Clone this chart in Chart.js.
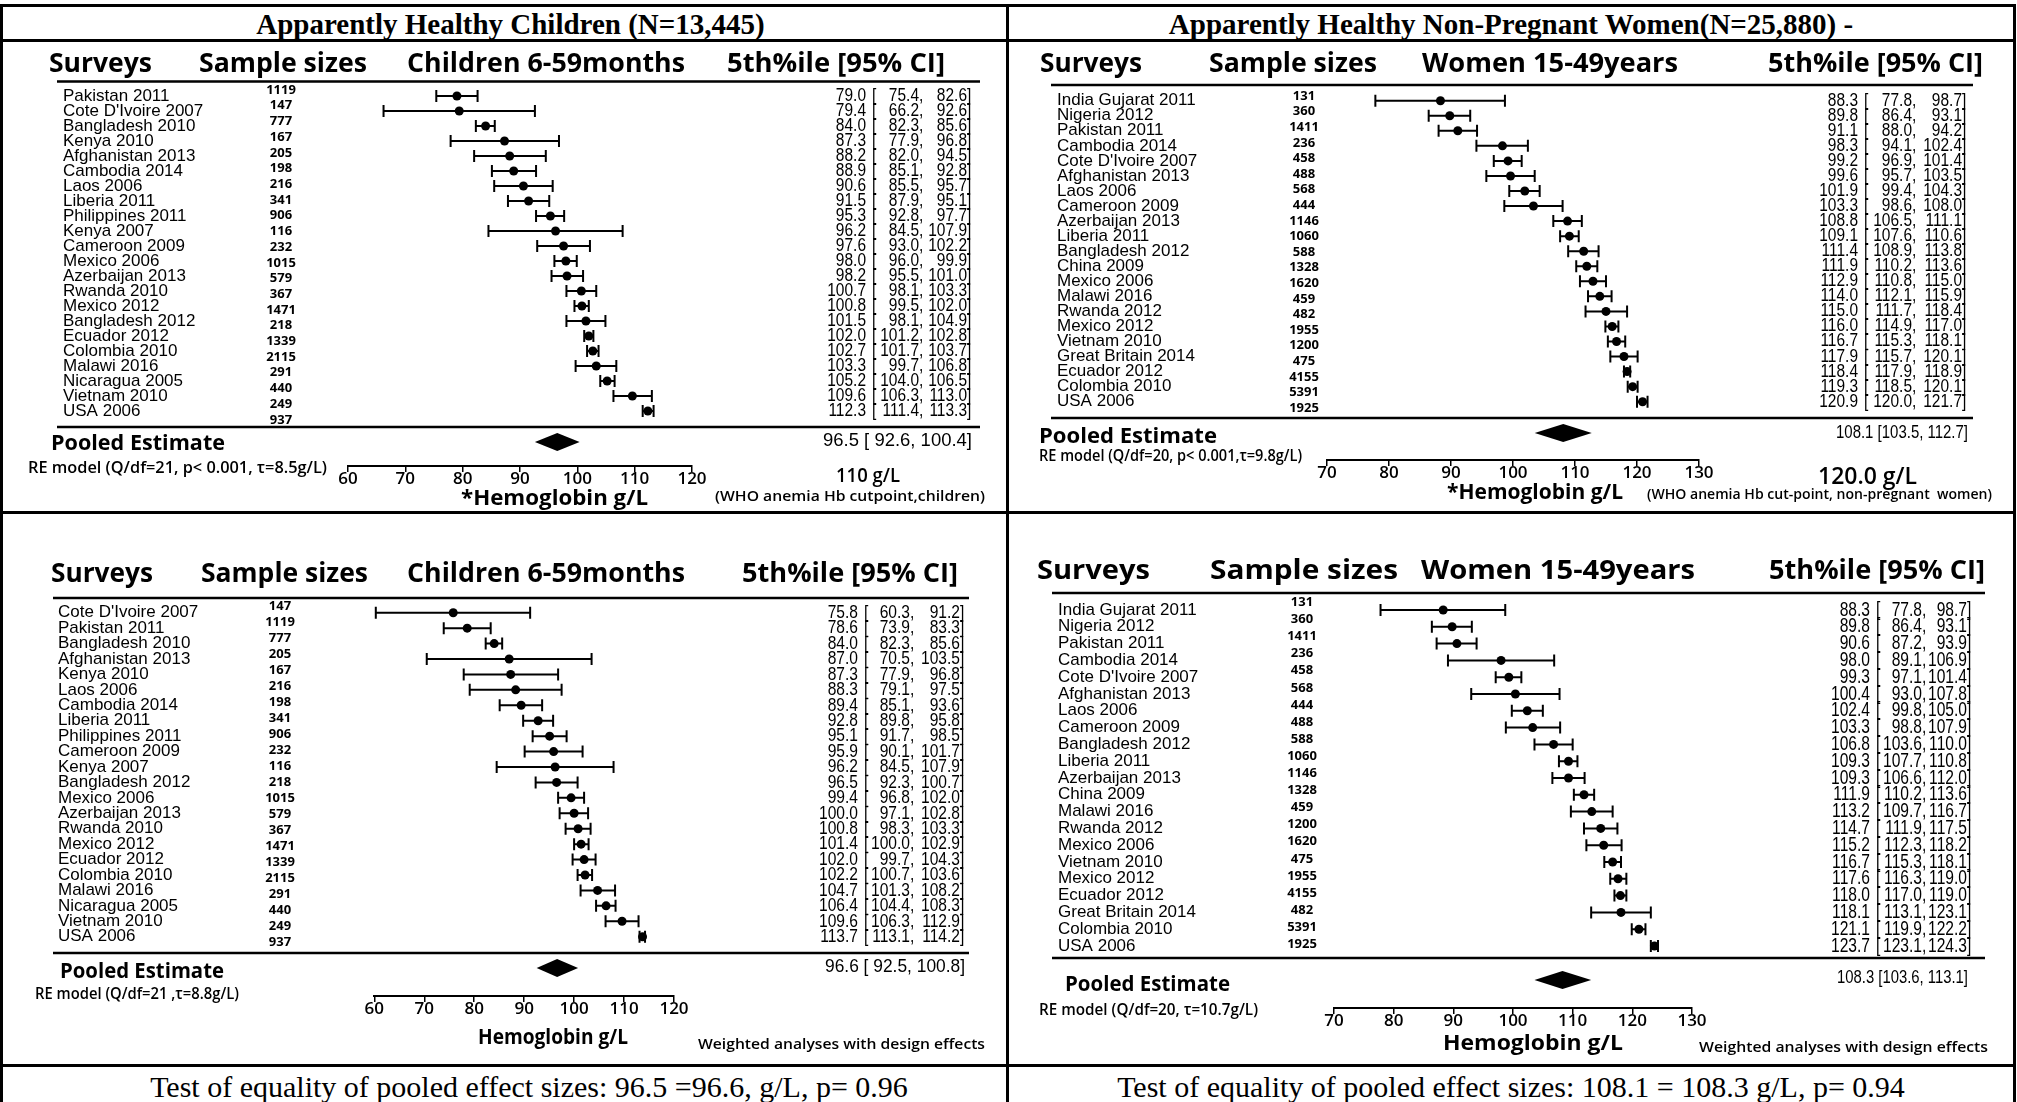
<!DOCTYPE html>
<html>
<head>
<meta charset="utf-8">
<script src="https://cdn.jsdelivr.net/npm/chart.js@4.4.1/dist/chart.umd.min.js"></script>
<style>
body { margin: 0; background: #fff; width: 2017px; height: 1102px; overflow: hidden; position: relative; }
.ln { position: absolute; background: #000; }
.cap { position: absolute; text-align: center; color: #000; white-space: nowrap; font-family: "Liberation Serif", serif; }
canvas { position: absolute; }
</style>
</head>
<body>
<!-- table frame -->
<div class="ln" style="left:0;top:4px;width:2016px;height:3px"></div>
<div class="ln" style="left:0;top:39px;width:2016px;height:3px"></div>
<div class="ln" style="left:0;top:511px;width:2016px;height:3px"></div>
<div class="ln" style="left:0;top:1064px;width:2016px;height:3px"></div>
<div class="ln" style="left:0;top:4px;width:3px;height:1098px"></div>
<div class="ln" style="left:2013px;top:4px;width:3px;height:1098px"></div>
<div class="ln" style="left:1006px;top:4px;width:3px;height:1098px"></div>

<div class="cap" style="left:3px;width:1015px;top:6px;line-height:36px;font-weight:bold;font-size:29px">Apparently Healthy Children (N=13,445)</div>
<div class="cap" style="left:1009px;width:1004px;top:6px;line-height:36px;font-weight:bold;font-size:29px">Apparently Healthy Non-Pregnant Women(N=25,880) -</div>
<div class="cap" style="left:3px;width:1052px;top:1069px;line-height:36px;font-size:30px">Test of equality of pooled effect sizes: 96.5 =96.6, g/L, p= 0.96</div>
<div class="cap" style="left:1009px;width:1004px;top:1069px;line-height:36px;font-size:30px">Test of equality of pooled effect sizes: 108.1 = 108.3 g/L, p= 0.94</div>

<canvas id="tl" width="1006" height="470" style="left:0;top:41px"></canvas>
<canvas id="tr" width="1006" height="470" style="left:1008px;top:41px"></canvas>
<canvas id="bl" width="1006" height="551" style="left:0;top:513px"></canvas>
<canvas id="br" width="1006" height="551" style="left:1008px;top:513px"></canvas>

<script>
// ---- Children, unweighted (top left)
const tlSurveys = ["Pakistan 2011", "Cote D'Ivoire 2007", "Bangladesh 2010", "Kenya 2010", "Afghanistan 2013", "Cambodia 2014", "Laos 2006", "Liberia 2011", "Philippines 2011", "Kenya 2007", "Cameroon 2009", "Mexico 2006", "Azerbaijan 2013", "Rwanda 2010", "Mexico 2012", "Bangladesh 2012", "Ecuador 2012", "Colombia 2010", "Malawi 2016", "Nicaragua 2005", "Vietnam 2010", "USA 2006"];
const tlN = [1119, 147, 777, 167, 205, 198, 216, 341, 906, 116, 232, 1015, 579, 367, 1471, 218, 1339, 2115, 291, 440, 249, 937];
const tlEst = [79.0, 79.4, 84.0, 87.3, 88.2, 88.9, 90.6, 91.5, 95.3, 96.2, 97.6, 98.0, 98.2, 100.7, 100.8, 101.5, 102.0, 102.7, 103.3, 105.2, 109.6, 112.3];
const tlLo = [75.4, 66.2, 82.3, 77.9, 82.0, 85.1, 85.5, 87.9, 92.8, 84.5, 93.0, 96.0, 95.5, 98.1, 99.5, 98.1, 101.2, 101.7, 99.7, 104.0, 106.3, 111.4];
const tlHi = [82.6, 92.6, 85.6, 96.8, 94.5, 92.8, 95.7, 95.1, 97.7, 107.9, 102.2, 99.9, 101.0, 103.3, 102.0, 104.9, 102.8, 103.7, 106.8, 106.5, 113.0, 113.3];
const tlPooled = [96.5, 92.6, 100.4];
const tlTicks = [60, 70, 80, 90, 100, 110, 120];

// ---- Women, unweighted (top right)
const trSurveys = ["India Gujarat 2011", "Nigeria 2012", "Pakistan 2011", "Cambodia 2014", "Cote D'Ivoire 2007", "Afghanistan 2013", "Laos 2006", "Cameroon 2009", "Azerbaijan 2013", "Liberia 2011", "Bangladesh 2012", "China 2009", "Mexico 2006", "Malawi 2016", "Rwanda 2012", "Mexico 2012", "Vietnam 2010", "Great Britain 2014", "Ecuador 2012", "Colombia 2010", "USA 2006"];
const trN = [131, 360, 1411, 236, 458, 488, 568, 444, 1146, 1060, 588, 1328, 1620, 459, 482, 1955, 1200, 475, 4155, 5391, 1925];
const trEst = [88.3, 89.8, 91.1, 98.3, 99.2, 99.6, 101.9, 103.3, 108.8, 109.1, 111.4, 111.9, 112.9, 114.0, 115.0, 116.0, 116.7, 117.9, 118.4, 119.3, 120.9];
const trLo = [77.8, 86.4, 88.0, 94.1, 96.9, 95.7, 99.4, 98.6, 106.5, 107.6, 108.9, 110.2, 110.8, 112.1, 111.7, 114.9, 115.3, 115.7, 117.9, 118.5, 120.0];
const trHi = [98.7, 93.1, 94.2, 102.4, 101.4, 103.5, 104.3, 108.0, 111.1, 110.6, 113.8, 113.6, 115.0, 115.9, 118.4, 117.0, 118.1, 120.1, 118.9, 120.1, 121.7];
const trPooled = [108.1, 103.5, 112.7];
const trTicks = [70, 80, 90, 100, 110, 120, 130];

// ---- Children, weighted (bottom left)
const blSurveys = ["Cote D'Ivoire 2007", "Pakistan 2011", "Bangladesh 2010", "Afghanistan 2013", "Kenya 2010", "Laos 2006", "Cambodia 2014", "Liberia 2011", "Philippines 2011", "Cameroon 2009", "Kenya 2007", "Bangladesh 2012", "Mexico 2006", "Azerbaijan 2013", "Rwanda 2010", "Mexico 2012", "Ecuador 2012", "Colombia 2010", "Malawi 2016", "Nicaragua 2005", "Vietnam 2010", "USA 2006"];
const blN = [147, 1119, 777, 205, 167, 216, 198, 341, 906, 232, 116, 218, 1015, 579, 367, 1471, 1339, 2115, 291, 440, 249, 937];
const blEst = [75.8, 78.6, 84.0, 87.0, 87.3, 88.3, 89.4, 92.8, 95.1, 95.9, 96.2, 96.5, 99.4, 100.0, 100.8, 101.4, 102.0, 102.2, 104.7, 106.4, 109.6, 113.7];
const blLo = [60.3, 73.9, 82.3, 70.5, 77.9, 79.1, 85.1, 89.8, 91.7, 90.1, 84.5, 92.3, 96.8, 97.1, 98.3, 100.0, 99.7, 100.7, 101.3, 104.4, 106.3, 113.1];
const blHi = [91.2, 83.3, 85.6, 103.5, 96.8, 97.5, 93.6, 95.8, 98.5, 101.7, 107.9, 100.7, 102.0, 102.8, 103.3, 102.9, 104.3, 103.6, 108.2, 108.3, 112.9, 114.2];
const blPooled = [96.6, 92.5, 100.8];
const blTicks = [60, 70, 80, 90, 100, 110, 120];

// ---- Women, weighted (bottom right)
const brSurveys = ["India Gujarat 2011", "Nigeria 2012", "Pakistan 2011", "Cambodia 2014", "Cote D'Ivoire 2007", "Afghanistan 2013", "Laos 2006", "Cameroon 2009", "Bangladesh 2012", "Liberia 2011", "Azerbaijan 2013", "China 2009", "Malawi 2016", "Rwanda 2012", "Mexico 2006", "Vietnam 2010", "Mexico 2012", "Ecuador 2012", "Great Britain 2014", "Colombia 2010", "USA 2006"];
const brN = [131, 360, 1411, 236, 458, 568, 444, 488, 588, 1060, 1146, 1328, 459, 1200, 1620, 475, 1955, 4155, 482, 5391, 1925];
const brEst = [88.3, 89.8, 90.6, 98.0, 99.3, 100.4, 102.4, 103.3, 106.8, 109.3, 109.3, 111.9, 113.2, 114.7, 115.2, 116.7, 117.6, 118.0, 118.1, 121.1, 123.7];
const brLo = [77.8, 86.4, 87.2, 89.1, 97.1, 93.0, 99.8, 98.8, 103.6, 107.7, 106.6, 110.2, 109.7, 111.9, 112.3, 115.3, 116.3, 117.0, 113.1, 119.9, 123.1];
const brHi = [98.7, 93.1, 93.9, 106.9, 101.4, 107.8, 105.0, 107.9, 110.0, 110.8, 112.0, 113.6, 116.7, 117.5, 118.2, 118.1, 119.0, 119.0, 123.1, 122.2, 124.3];
const brPooled = [108.3, 103.6, 113.1];
const brTicks = [70, 80, 90, 100, 110, 120, 130];

const childHeads = ['Surveys', 'Sample sizes', 'Children 6-59months', '5th%ile [95% CI]'];
const womenHeads = ['Surveys', 'Sample sizes', 'Women 15-49years', '5th%ile [95% CI]'];

const SANS = '"Open Sans", "Noto Sans", sans-serif';
const ARIAL = '"Liberation Sans", Arial, sans-serif';

// draw text squeezed/stretched to fit between x0 and x1
function fitText(ctx, s, x0, x1, y, font) {
    ctx.save();
    ctx.font = font;
    ctx.textAlign = 'left';
    ctx.textBaseline = 'middle';
    var w = ctx.measureText(s).width;
    ctx.translate(x0, y);
    ctx.scale((x1 - x0) / w, 1);
    ctx.fillText(s, 0, 0);
    ctx.restore();
}

function put(ctx, s, x, y, font, align, sx) {
    ctx.save();
    ctx.font = font;
    ctx.textAlign = align;
    ctx.textBaseline = 'middle';
    ctx.translate(x, y);
    ctx.scale(sx || 1, 1);
    ctx.fillText(s, 0, 0);
    ctx.restore();
}

function ciString(v) {
    return v[0].toFixed(1) + ' [' + (v[1] < 100 ? ' ' : '') + v[1].toFixed(1) + ', ' + v[2].toFixed(1) + ']';
}

function forestPlugin(d, p, pooledRow) {
    return {
        id: 'forest',
        beforeDatasetsDraw: function (chart) {
            var ctx = chart.ctx, xs = chart.scales.x, ys = chart.scales.y;
            ctx.save();
            ctx.strokeStyle = '#000';
            ctx.fillStyle = '#000';
            ctx.lineWidth = 2;
            d.lo.forEach(function (lo, i) {
                var y = ys.getPixelForValue(i);
                var a = xs.getPixelForValue(lo), b = xs.getPixelForValue(d.hi[i]);
                ctx.beginPath();
                ctx.moveTo(a, y); ctx.lineTo(b, y);
                ctx.moveTo(a, y - 6); ctx.lineTo(a, y + 6);
                ctx.moveTo(b, y - 6); ctx.lineTo(b, y + 6);
                ctx.stroke();
            });
            // pooled diamond
            var py = ys.getPixelForValue(pooledRow);
            var pe = xs.getPixelForValue(d.pooled[0]);
            var pl = xs.getPixelForValue(d.pooled[1]);
            var ph = xs.getPixelForValue(d.pooled[2]);
            ctx.beginPath();
            ctx.moveTo(pl, py); ctx.lineTo(pe, py - 9); ctx.lineTo(ph, py); ctx.lineTo(pe, py + 9);
            ctx.closePath();
            ctx.fill();
            ctx.restore();
        },
        afterDraw: function (chart) {
            var ctx = chart.ctx, ys = chart.scales.y;
            var ox = p.ox, oy = p.oy;
            ctx.save();
            ctx.fillStyle = '#000';
            ctx.strokeStyle = '#000';

            // column headers
            d.heads.forEach(function (h, k) {
                fitText(ctx, h, p.hBoxes[k][0] - ox, p.hBoxes[k][1] - ox, p.headY - oy, 'bold 26px ' + SANS);
            });
            // rules
            ctx.lineWidth = 2.5;
            ctx.beginPath();
            ctx.moveTo(p.ruleX0 - ox, p.ruleTop - oy); ctx.lineTo(p.ruleX1 - ox, p.ruleTop - oy);
            ctx.moveTo(p.ruleX0 - ox, p.ruleBot - oy); ctx.lineTo(p.ruleX1 - ox, p.ruleBot - oy);
            ctx.stroke();

            // rows
            var f = p.ciSize + 'px ' + ARIAL, sx = p.ciScale;
            d.surveys.forEach(function (name, i) {
                var y = ys.getPixelForValue(i);
                put(ctx, name, p.nameX - ox, y, '17px ' + ARIAL, 'left');
                put(ctx, String(d.n[i]), p.nX - ox, p.nY - oy + i * p.nStep, 'bold 13px ' + SANS, 'center');
                put(ctx, d.est[i].toFixed(1), p.estR - ox, y, f, 'right', sx);
                put(ctx, '[', p.estR - ox + 6, y, f, 'left', sx);
                put(ctx, d.lo[i].toFixed(1), p.loR - ox, y, f, 'right', sx);
                put(ctx, ',', p.loR - ox, y, f, 'left', sx);
                put(ctx, d.hi[i].toFixed(1), p.hiR - ox, y, f, 'right', sx);
                put(ctx, ']', p.hiR - ox, y, f, 'left', sx);
            });

            // pooled row and footer notes
            fitText(ctx, 'Pooled Estimate', p.poolLab[0] - ox, p.poolLab[1] - ox, p.poolLab[2] - oy, 'bold 21px ' + SANS);
            fitText(ctx, ciString(d.pooled), p.poolCi[0] - ox, p.poolCi[1] - ox, p.poolCi[2] - oy, '18px ' + ARIAL);
            fitText(ctx, d.re, p.re[0] - ox, p.re[1] - ox, p.re[2] - oy, '600 16px ' + SANS);
            fitText(ctx, d.axisTitle, p.axTitle[0] - ox, p.axTitle[1] - ox, p.axTitle[2] - oy, 'bold 21px ' + SANS);
            d.notes.forEach(function (s, k) {
                var b = p.notes[k];
                fitText(ctx, s, b[0] - ox, b[1] - ox, b[2] - oy, b[3] + ' ' + SANS);
            });
            ctx.restore();
        }
    };
}

function makeForest(id, d, p) {
    var cv = document.getElementById(id);
    var W = cv.width, H = cv.height;
    var top = 10, axisH = 34;
    var axisY = p.axisY - p.oy;
    var rowFirst = p.rowY - p.oy;
    var yMin = -(rowFirst - top) / p.rowStep;
    var yMax = yMin + (axisY - top) / p.rowStep;
    var pooledRow = (p.pooledY - p.rowY) / p.rowStep;

    return new Chart(cv, {
        type: 'scatter',
        data: {
            datasets: [{
                data: d.est.map(function (v, i) { return { x: v, y: i }; }),
                pointRadius: 4.5,
                pointHoverRadius: 4.5,
                pointBackgroundColor: '#000',
                pointBorderWidth: 0
            }]
        },
        options: {
            responsive: false,
            animation: false,
            events: [],
            layout: {
                padding: { left: p.x0 - p.ox, right: W - (p.x1 - p.ox), top: top, bottom: H - axisY - axisH }
            },
            plugins: {
                legend: { display: false },
                tooltip: { enabled: false }
            },
            scales: {
                x: {
                    type: 'linear',
                    position: 'bottom',
                    min: d.ticks[0],
                    max: d.ticks[d.ticks.length - 1],
                    afterFit: function (s) { s.height = axisH; },
                    afterBuildTicks: function (s) { s.ticks = d.ticks.map(function (v) { return { value: v }; }); },
                    grid: { drawOnChartArea: false, drawTicks: true, tickLength: 6, color: '#000', lineWidth: 1.5 },
                    border: { display: true, color: '#000', width: 2 },
                    ticks: {
                        color: '#000',
                        padding: -3,
                        maxRotation: 0,
                        autoSkip: false,
                        font: { family: SANS, size: 17, weight: '600' }
                    }
                },
                y: { type: 'linear', display: false, reverse: true, min: yMin, max: yMax }
            }
        },
        plugins: [forestPlugin(d, p, pooledRow)]
    });
}

makeForest('tl', {
    surveys: tlSurveys, n: tlN, est: tlEst, lo: tlLo, hi: tlHi, pooled: tlPooled, ticks: tlTicks,
    heads: childHeads,
    re: 'RE model (Q/df=21, p< 0.001, τ=8.5g/L)',
    axisTitle: '*Hemoglobin g/L',
    notes: ['110 g/L', '(WHO anemia Hb cutpoint,children)']
}, {
    ox: 0, oy: 41, x0: 348, x1: 692,
    rowY: 96, rowStep: 15.0, nY: 90, nStep: 15.71, nX: 281, nameX: 63,
    estR: 866, loR: 919, hiR: 967, ciSize: 18, ciScale: 0.86,
    ruleTop: 81.5, ruleBot: 427, ruleX0: 57, ruleX1: 980,
    pooledY: 442, axisY: 466, headY: 65,
    hBoxes: [[49, 152], [199, 367], [407, 685], [727, 945]],
    poolLab: [51, 225, 444], poolCi: [823, 972, 441], re: [28, 327, 468], axTitle: [461, 648, 499],
    notes: [[836, 900, 477, '600 19px'], [715, 985, 497, '600 15px']]
});

makeForest('tr', {
    surveys: trSurveys, n: trN, est: trEst, lo: trLo, hi: trHi, pooled: trPooled, ticks: trTicks,
    heads: womenHeads,
    re: 'RE model (Q/df=20, p< 0.001,τ=9.8g/L)',
    axisTitle: '*Hemoglobin g/L',
    notes: ['120.0 g/L', '(WHO anemia Hb cut-point, non-pregnant  women)']
}, {
    ox: 1008, oy: 41, x0: 1327, x1: 1699,
    rowY: 100.7, rowStep: 15.05, nY: 96, nStep: 15.6, nX: 1304, nameX: 1057,
    estR: 1858, loR: 1912, hiR: 1962, ciSize: 18, ciScale: 0.86,
    ruleTop: 85, ruleBot: 418, ruleX0: 1051, ruleX1: 1973,
    pooledY: 433, axisY: 460, headY: 65,
    hBoxes: [[1040, 1142], [1209, 1377], [1422, 1678], [1768, 1983]],
    poolLab: [1039, 1217, 437], poolCi: [1836, 1968, 433], re: [1039, 1302, 456], axTitle: [1447, 1623, 493],
    notes: [[1818, 1917, 477, '600 23px'], [1647, 1992, 495, '600 14px']]
});

makeForest('bl', {
    surveys: blSurveys, n: blN, est: blEst, lo: blLo, hi: blHi, pooled: blPooled, ticks: blTicks,
    heads: childHeads,
    re: 'RE model (Q/df=21 ,τ=8.8g/L)',
    axisTitle: 'Hemoglobin g/L',
    notes: ['Weighted analyses with design effects']
}, {
    ox: 0, oy: 513, x0: 374.3, x1: 674,
    rowY: 612.7, rowStep: 15.43, nY: 606.7, nStep: 16.0, nX: 280, nameX: 58,
    estR: 858, loR: 910, hiR: 960, ciSize: 19, ciScale: 0.82,
    ruleTop: 598, ruleBot: 953, ruleX0: 53, ruleX1: 969,
    pooledY: 968, axisY: 996, headY: 575,
    hBoxes: [[51, 153], [201, 368], [407, 685], [742, 958]],
    poolLab: [60, 224, 972], poolCi: [825, 965, 967], re: [35, 239, 994], axTitle: [478, 628, 1038],
    notes: [[698, 985, 1045, '600 15px']]
});

makeForest('br', {
    surveys: brSurveys, n: brN, est: brEst, lo: brLo, hi: brHi, pooled: brPooled, ticks: brTicks,
    heads: womenHeads,
    re: 'RE model (Q/df=20, τ=10.7g/L)',
    axisTitle: 'Hemoglobin g/L',
    notes: ['Weighted analyses with design effects']
}, {
    ox: 1008, oy: 513, x0: 1334, x1: 1692,
    rowY: 610, rowStep: 16.8, nY: 602.3, nStep: 17.1, nX: 1302, nameX: 1058,
    estR: 1870, loR: 1922, hiR: 1967, ciSize: 20, ciScale: 0.78,
    ruleTop: 593, ruleBot: 958, ruleX0: 1052, ruleX1: 1985,
    pooledY: 980, axisY: 1008, headY: 572,
    hBoxes: [[1037, 1150], [1210, 1398], [1421, 1695], [1769, 1985]],
    poolLab: [1065, 1230, 985], poolCi: [1837, 1968, 978], re: [1039, 1258, 1010], axTitle: [1443, 1623, 1044],
    notes: [[1699, 1988, 1048, '600 15px']]
});
</script>
</body>
</html>
